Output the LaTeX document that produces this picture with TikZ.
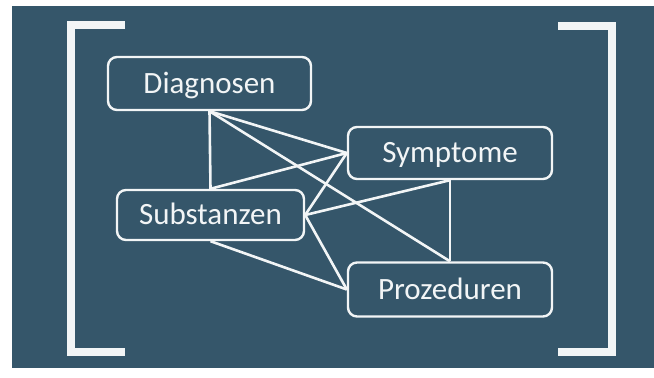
\documentclass[tikz,border=0pt]{standalone}
\usepackage{fontspec}
\setmainfont{Carlito}
\definecolor{slate}{HTML}{35566A}
\definecolor{chalk}{HTML}{F2F5F6}

\begin{document}
\begin{tikzpicture}[x=0.5pt, y=-0.5pt,
  topic/.style={draw=chalk, line width=1.2pt, rounded corners=4.5pt,
    minimum height=26pt, inner sep=0pt, text=chalk,
    text height=10pt, text depth=0pt, font=\fontsize{15.5}{18}\selectfont},
  link/.style={draw=chalk, line width=1.3pt},
  bracket/.style={draw=chalk, line width=4pt}]
  % white margin and slate panel
  \fill[white] (0,0) rectangle (654,378);
  \fill[slate] (12,6) rectangle (654,368);

  % the two brackets
  \draw[bracket] (125,25.5) -- (71,25.5) -- (71,352.5) -- (125,352.5);
  \draw[bracket] (558,26) -- (612,26) -- (612,352.5) -- (558,352.5);

  % the four boxes
  \node[topic, minimum width=101.5pt, minimum height=26.5pt] (diag) at (209.5,83.5) {Diagnosen};
  \node[topic, minimum width=102pt] (sympt) at (450,153) {Symptome};
  \node[topic, minimum width=93.5pt, minimum height=25pt] (subst) at (210.5,215) {Substanzen};
  \node[topic, minimum width=102pt, minimum height=27pt] (proz) at (450,289.5) {Prozeduren};

  % links
  \draw[link] (diag.south) -- (subst.north);
  \draw[link] (diag.south) -- (sympt.west);
  \draw[link] (diag.south) -- (proz.north);
  \draw[link] (subst.north) -- (sympt.west);
  \draw[link] (subst.east) -- (sympt.west);
  \draw[link] (subst.east) -- (sympt.south);
  \draw[link] (subst.east) -- (proz.west);
  \draw[link] (subst.south) -- (proz.west);
  \draw[link] (sympt.south) -- (proz.north);
\end{tikzpicture}
\end{document}
